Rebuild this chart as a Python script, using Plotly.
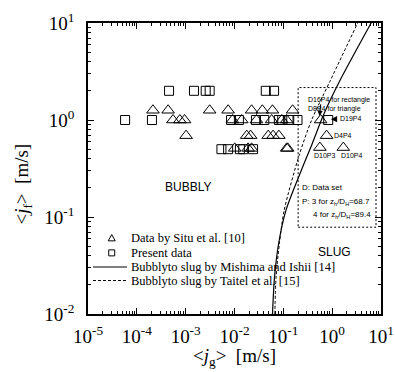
import math
import plotly.graph_objects as go

# ---- data ----
situ_jg = [0.000214, 0.000437, 0.0031, 0.0074, 0.0224, 0.0372, 0.060, 0.155,
           0.00055, 0.00076, 0.00095, 0.0091, 0.0141, 0.0282, 0.0575, 0.093, 0.117, 0.58,
           0.00102, 0.0178, 0.0214, 0.049, 0.0617, 0.081, 0.77,
           0.0101, 0.019, 0.0224, 0.117, 0.123, 0.56, 1.69]
situ_jf = [1.26, 1.26, 1.26, 1.26, 1.26, 1.26, 1.26, 1.26,
           1.0, 1.0, 1.0, 1.0, 1.0, 1.0, 1.0, 1.0, 1.0, 1.0,
           0.69, 0.69, 0.69, 0.69, 0.69, 0.69, 0.69,
           0.51, 0.51, 0.51, 0.51, 0.51, 0.52, 0.52]

present_jg = [0.000457, 0.00148, 0.00257, 0.0031, 0.0437, 0.0646,
              0.0000575, 0.000204, 0.0085, 0.0123, 0.0275, 0.0407, 0.081, 0.095, 0.132, 0.195, 0.83,
              0.0054, 0.0074, 0.0129, 0.0151, 0.024]
present_jf = [2.0, 2.0, 2.0, 2.0, 2.0, 2.0,
              1.0, 1.0, 1.0, 1.0, 1.0, 1.0, 1.0, 1.0, 1.0, 1.0, 1.0,
              0.5, 0.5, 0.5, 0.5, 0.5]

mishima_jg = [0.060, 0.066, 0.080, 0.113, 0.232, 0.39, 0.68, 1.45, 6.2, 6.6]
mishima_jf = [0.01, 0.024, 0.053, 0.117, 0.30, 0.57, 1.16, 2.57, 9.9, 10.5]

taitel_jg = [0.067, 0.071, 0.083, 0.104, 0.21, 0.38, 0.9, 3.3, 3.5]
taitel_jf = [0.01, 0.024, 0.053, 0.117, 0.43, 1.0, 2.5, 9.9, 10.5]

box_x = [0.201, 7.9]
box_y = [0.0785, 2.16]

legend_names = ["Data by Situ et al. [10]", "Present data",
                "Bubblyto slug by Mishima and Ishii [14]", "Bubblyto slug by Taitel et al. [15]"]

xtick_vals = [1e-5, 1e-4, 1e-3, 1e-2, 1e-1, 1, 10]
xtick_text = ["10<sup>-5</sup>", "10<sup>-4</sup>", "10<sup>-3</sup>", "10<sup>-2</sup>",
              "10<sup>-1</sup>", "10<sup>0</sup>", "10<sup>1</sup>"]
ytick_vals = [1e-2, 1e-1, 1, 10]
ytick_text = ["10<sup>-2</sup>", "10<sup>-1</sup>", "10<sup>0</sup>", "10<sup>1</sup>"]

x_title = "&lt;<i>j</i><sub>g</sub>&gt;  [m/s]"
y_title = "&lt;<i>j</i><sub>f</sub>&gt;  [m/s]"

serif = "Liberation Serif"
sans = "Liberation Sans"

fig = go.Figure()
fig.add_trace(go.Scatter(x=situ_jg, y=situ_jf, mode="markers", name=legend_names[0],
                         marker=dict(symbol="triangle-up-open", size=11, color="black",
                                     line=dict(width=1, color="black"))))
fig.add_trace(go.Scatter(x=present_jg, y=present_jf, mode="markers", name=legend_names[1],
                         marker=dict(symbol="square-open", size=9, color="black",
                                     line=dict(width=1, color="black"))))
fig.add_trace(go.Scatter(x=mishima_jg, y=mishima_jf, mode="lines", name=legend_names[2],
                         line=dict(color="black", width=1.2, shape="spline", smoothing=0.8)))
fig.add_trace(go.Scatter(x=taitel_jg, y=taitel_jf, mode="lines", name=legend_names[3],
                         line=dict(color="black", width=1, dash="3px,2px", shape="spline",
                                   smoothing=0.8)))

# dashed box
fig.add_shape(type="rect", xref="x", yref="y", x0=box_x[0], x1=box_x[1], y0=box_y[0], y1=box_y[1],
              line=dict(color="black", width=1, dash="2px,2px"))

ann = []
def txt(x, y, s, size=8, font=sans, xanchor="left", **kw):
    ann.append(dict(x=math.log10(x), y=math.log10(y), xref="x", yref="y", text=s, showarrow=False,
                    font=dict(family=font, size=size, color="black"), xanchor=xanchor, **kw))

txt(0.0011, 0.203, "BUBBLY", size=12, xanchor="center")
txt(1.14, 0.0433, "SLUG", size=12, xanchor="center")
txt(0.29, 1.6, "D16P4 for rectangle", size=7)
txt(0.29, 1.31, "D8P4 for triangle", size=7)
txt(1.33, 1.03, "D19P4", size=7)
txt(0.975, 0.695, "D4P4", size=7)
txt(0.39, 0.43, "D10P3", size=7)
txt(1.39, 0.43, "D10P4", size=7)
txt(0.215, 0.203, "D: Data set", size=8)
txt(0.215, 0.142, "P: 3 for z<sub>h</sub>/D<sub>H</sub>=68.7", size=8)
txt(0.361, 0.104, "4 for z<sub>h</sub>/D<sub>H</sub>=89.4", size=8)
# arrows
ann.append(dict(x=math.log10(0.94), y=math.log10(1.02), xref="x", yref="y",
                ax=math.log10(1.3), ay=math.log10(1.02), axref="x", ayref="y", text="",
                showarrow=True, arrowhead=2, arrowsize=0.9, arrowwidth=1.4, arrowcolor="black"))
ann.append(dict(x=math.log10(0.55), y=math.log10(1.1), xref="x", yref="y",
                ax=math.log10(0.585), ay=math.log10(1.5), axref="x", ayref="y", text="",
                showarrow=True, arrowhead=2, arrowsize=0.9, arrowwidth=1.2, arrowcolor="black"))

# axis titles as annotations (precise placement)
ann.append(dict(x=0.5, y=-0.148, xref="paper", yref="paper", text=x_title, showarrow=False,
                xanchor="center", yanchor="middle", font=dict(family=serif, size=19, color="black")))
ann.append(dict(x=-0.225, y=0.445, xref="paper", yref="paper", text=y_title, showarrow=False,
                textangle=-90, xanchor="center", yanchor="middle",
                font=dict(family=serif, size=19, color="black")))

# hand-drawn legend (paper coordinates)
leg_x_sym = 0.081
leg_x_txt = 0.141
leg_y = [0.261, 0.210, 0.1615, 0.115]
for name, yy in zip(legend_names, leg_y):
    ann.append(dict(x=leg_x_txt, y=yy, xref="paper", yref="paper", text=name, showarrow=False,
                    xanchor="left", yanchor="middle",
                    font=dict(family=serif, size=12.5, color="black")))
fig.add_shape(type="path", xref="paper", yref="paper", xsizemode="pixel", ysizemode="pixel",
              xanchor=leg_x_sym, yanchor=leg_y[0], path="M -3.5,-2.8 L 3.5,-2.8 L 0,3.5 Z",
              line=dict(color="black", width=1))
fig.add_shape(type="rect", xref="paper", yref="paper", xsizemode="pixel", ysizemode="pixel",
              xanchor=leg_x_sym, yanchor=leg_y[1], x0=-3, x1=3, y0=-3, y1=3,
              line=dict(color="black", width=1))
fig.add_shape(type="line", xref="paper", yref="paper", x0=0.017, x1=0.133, y0=leg_y[2], y1=leg_y[2],
              line=dict(color="black", width=1.2))
fig.add_shape(type="line", xref="paper", yref="paper", x0=0.017, x1=0.133, y0=leg_y[3], y1=leg_y[3],
              line=dict(color="black", width=1, dash="3px,2px"))

fig.update_layout(annotations=ann)

axis_common = dict(type="log", showline=True, linecolor="black", linewidth=1.5, mirror="ticks",
                   ticks="inside", ticklen=6, tickwidth=1, tickcolor="black", showgrid=False,
                   zeroline=False, automargin=False,
                   tickfont=dict(family=serif, size=19, color="black"),
                   minor=dict(ticks="inside", ticklen=3, tickwidth=1, tickcolor="black", dtick="D1",
                              showgrid=False))

fig.update_xaxes(range=[-5, 1], tickvals=xtick_vals, ticktext=xtick_text, ticklabelstandoff=4,
                 **axis_common)
fig.update_yaxes(range=[-2, 1], tickvals=ytick_vals, ticktext=ytick_text, ticklabelstandoff=8,
                 **axis_common)

fig.update_layout(
    width=395, height=372,
    margin=dict(l=88, r=14, t=23, b=58),
    paper_bgcolor="white", plot_bgcolor="white",
    showlegend=False,
)

fig.write_html("out.html")
